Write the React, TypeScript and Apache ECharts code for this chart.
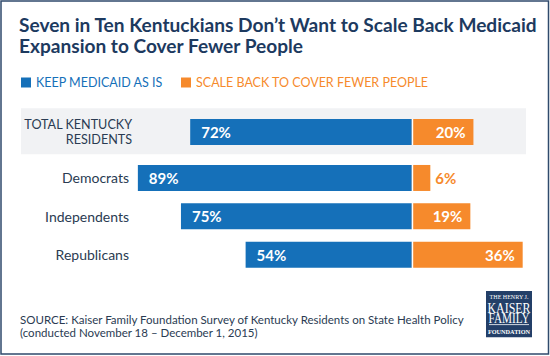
import React, { useEffect, useRef } from 'react';
import * as echarts from 'echarts';

const titleLines = ['Seven in Ten Kentuckians Don’t Want to Scale Back Medicaid', 'Expansion to Cover Fewer People'];
const seriesNames = ['KEEP MEDICAID AS IS', 'SCALE BACK TO COVER FEWER PEOPLE'];
const totalCategory = ['TOTAL KENTUCKY\nRESIDENTS'];
const partyCategories = ['Democrats', 'Independents', 'Republicans'];
const totalKeep = [72];
const totalScaleBack = [20];
const partyKeep = [89, 75, 54];
const partyScaleBack = [6, 19, 36];
const sourceLines = [
  'SOURCE: Kaiser Family Foundation Survey of Kentucky Residents on State Health Policy',
  '(conducted November 18 – December 1, 2015)',
];

const BLUE = '#1570b9';
const ORANGE = '#f68a2c';
const NAVY = '#1d3a5f';
const TEXT = '#2a3b52';
const FONT = 'Lato, "Noto Sans", sans-serif';
const SERIF = '"Liberation Serif", "DejaVu Serif", serif';

function keepSeries(name: string, values: number[], idx: number) {
  return {
    name,
    type: 'bar',
    xAxisIndex: idx,
    yAxisIndex: idx,
    barWidth: 26,
    barGap: '-100%',
    itemStyle: { color: BLUE },
    label: {
      show: true,
      position: 'insideLeft',
      distance: 11,
      color: '#fff',
      fontSize: 15,
      fontWeight: 'bold',
      fontFamily: FONT,
      formatter: (p: any) => Math.abs(p.value) + '%',
    },
    data: values.map((v) => -v),
  };
}

function scaleSeries(name: string, values: number[], idx: number) {
  return {
    name,
    type: 'bar',
    xAxisIndex: idx,
    yAxisIndex: idx,
    barWidth: 26,
    barGap: '-100%',
    itemStyle: { color: ORANGE },
    label: {
      show: true,
      position: 'insideRight',
      distance: 8,
      color: '#fff',
      fontSize: 15,
      fontWeight: 'bold',
      fontFamily: FONT,
      formatter: (p: any) => p.value + '%',
    },
    markLine: {
      silent: true,
      symbol: 'none',
      label: { show: false },
      lineStyle: { color: '#fff', width: 1.4, type: 'solid' },
      data: [{ xAxis: 0 }],
    },
    data: values.map((v) =>
      v < 10
        ? { value: v, label: { position: 'right', distance: 5, color: ORANGE } }
        : v
    ),
  };
}

function logoText(text: string, y: number, fontSize: number, scaleX: number, weight = 'normal') {
  return {
    type: 'text',
    x: 23,
    y,
    scaleX,
    style: {
      text,
      fontSize,
      fontWeight: weight,
      fill: '#fff',
      align: 'center',
      verticalAlign: 'middle',
      fontFamily: SERIF,
    },
  };
}

export default function App() {
  const ref = useRef<HTMLDivElement>(null);
  useEffect(() => {
    document.body.style.margin = '0';
    const chart = echarts.init(ref.current!, null, { renderer: 'svg' });
    const catAxisBase = {
      type: 'category',
      axisLine: { show: false },
      axisTick: { show: false },
      splitLine: { show: false },
    };
    chart.setOption({
      animation: false,
      backgroundColor: '#fff',
      title: {
        text: titleLines.join('\n'),
        left: 19,
        top: 14,
        padding: 0,
        textStyle: { fontSize: 19.1, fontWeight: 'bold', lineHeight: 21, color: NAVY, fontFamily: FONT },
      },
      legend: {
        left: 21,
        top: 76,
        padding: 0,
        icon: 'rect',
        itemWidth: 10,
        itemHeight: 10,
        itemGap: 18,
        textStyle: { fontSize: 12.5, fontFamily: FONT },
        data: [
          { name: seriesNames[0], textStyle: { color: BLUE } },
          { name: seriesNames[1], textStyle: { color: ORANGE } },
        ],
      },
      grid: [
        { left: 104, width: 431, top: 119, height: 26 },
        { left: 104, width: 431, top: 158.8, height: 115 },
      ],
      xAxis: [
        { gridIndex: 0, type: 'value', min: -100, max: 40, show: false },
        { gridIndex: 1, type: 'value', min: -100, max: 40, show: false },
      ],
      yAxis: [
        {
          ...catAxisBase,
          gridIndex: 0,
          data: totalCategory,
          axisLabel: { margin: -28, fontSize: 12.6, lineHeight: 15.5, color: TEXT, fontFamily: FONT },
        },
        {
          ...catAxisBase,
          gridIndex: 1,
          inverse: true,
          data: partyCategories,
          axisLabel: { margin: -25, fontSize: 14, color: TEXT, fontFamily: FONT },
        },
      ],
      graphic: [
        { type: 'rect', z: -10, shape: { x: 21, y: 108.3, width: 505, height: 46 }, style: { fill: '#f1f2f4' } },
        {
          type: 'rect',
          shape: { x: 1, y: 1, width: 547.5, height: 353 },
          style: { fill: 'none', stroke: '#2f4a6c', lineWidth: 1.5 },
        },
        {
          type: 'text',
          x: 20,
          y: 312.6,
          style: { text: sourceLines.join('\n'), fontSize: 11.5, lineHeight: 13.4, fill: TEXT, fontFamily: FONT },
        },
        {
          type: 'group',
          x: 486,
          y: 291,
          children: [
            { type: 'rect', shape: { x: 0, y: 0, width: 46, height: 46.3 }, style: { fill: '#233f68' } },
            logoText('THE HENRY J.', 6.5, 5.5, 1.1),
            logoText('KAISER', 17.2, 14, 0.85),
            logoText('FAMILY', 27.8, 14, 0.8),
            { type: 'line', shape: { x1: 3, y1: 33.6, x2: 43, y2: 33.6 }, style: { stroke: '#fff', lineWidth: 0.8 } },
            logoText('FOUNDATION', 41.6, 5.2, 1.2, 'bold'),
          ],
        },
      ],
      series: [
        keepSeries(seriesNames[0], totalKeep, 0),
        scaleSeries(seriesNames[1], totalScaleBack, 0),
        keepSeries(seriesNames[0], partyKeep, 1),
        scaleSeries(seriesNames[1], partyScaleBack, 1),
      ],
    });
    return () => chart.dispose();
  }, []);
  return <div ref={ref} style={{ width: 550, height: 356, position: 'absolute', left: 0, top: 0 }} />;
}
